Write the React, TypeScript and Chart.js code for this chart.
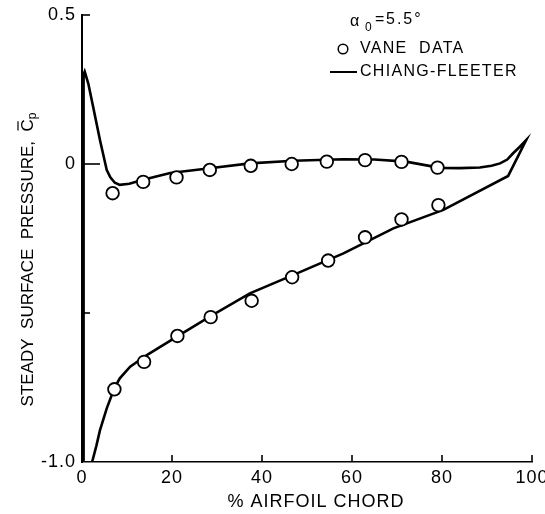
import React, { useEffect, useRef } from "react";
import { Chart, registerables } from "chart.js";

Chart.register(...registerables);

// ---- data ----
const upperX = [6.8, 13.6, 21.0, 28.4, 37.5, 46.6, 54.4, 62.9, 71.0, 79.0];
const upperCp = [-0.098, -0.06, -0.045, -0.02, -0.006, 0.0, 0.008, 0.013, 0.007, -0.012];
const lowerX = [7.2, 13.8, 21.2, 28.6, 37.7, 46.7, 54.7, 62.9, 71.0, 79.2];
const lowerCp = [-0.756, -0.664, -0.577, -0.514, -0.459, -0.38, -0.324, -0.246, -0.186, -0.138];

// Chiang-Fleeter theory, traced around the airfoil (leading edge, upper surface, trailing edge, lower surface)
const theoryX = [
  0.35, 0.35, 0.6, 1.4, 2.5, 4.0, 5.5, 6.3, 7.3, 8.4, 10.5, 13.6, 19.6, 28.4, 37.3, 47.0, 58.0, 65.0, 72.0,
  79.6, 84.0, 88.4, 91.0, 92.9, 94.5, 95.8, 97.3, 98.7, 94.7, 80.3, 69.2, 58.1, 47.0, 37.3, 28.4, 21.0,
  14.4, 10.7, 8.4, 7.2, 5.5, 4.0, 3.2, 2.25,
];
const theoryCp = [
  -1.0, 0.3, 0.31, 0.27, 0.19, 0.08, -0.02, -0.045, -0.063, -0.07, -0.066, -0.053, -0.03, -0.014, 0.002,
  0.011, 0.016, 0.015, 0.008, -0.013, -0.014, -0.012, -0.006, 0.002, 0.015, 0.036, 0.058, 0.08, -0.04,
  -0.154, -0.216, -0.3, -0.372, -0.434, -0.512, -0.58, -0.641, -0.68, -0.719, -0.752, -0.82, -0.893,
  -0.945, -1.0,
];

const xTicks = [0, 20, 40, 60, 80, 100];
const yTickValues = [0.5, 0, -0.5, -1.0];
const yTickLabels = ["0.5", "0", "", "-1.0"];

const X_TITLE = "% AIRFOIL CHORD";
const Y_TITLE_MAIN = "STEADY  SURFACE  PRESSURE,  ";
const LEGEND_ALPHA = "5.5°";
const LEGEND_DATA = "VANE  DATA";
const LEGEND_THEORY = "CHIANG-FLEETER";

const FONT = '"Liberation Sans", Arial, sans-serif';

const toXY = (xs: number[], ys: number[]) => xs.map((x, i) => ({ x, y: ys[i] }));

const spacing = {
  id: "spacing",
  beforeDraw(chart: any) {
    (chart.ctx as any).letterSpacing = "1px";
  },
  afterDatasetsDraw(chart: any) {
    (chart.ctx as any).letterSpacing = "0px";
  },
};

const annotate = {
  id: "annotate",
  afterDraw(chart: any) {
    const ctx: CanvasRenderingContext2D = chart.ctx;
    const { left, right, top, bottom } = chart.chartArea;
    const xs = chart.scales.x;
    const ys = chart.scales.y;
    ctx.save();
    ctx.fillStyle = "#000";
    ctx.strokeStyle = "#000";
    ctx.lineCap = "butt";

    // inward tick marks
    ctx.lineWidth = 1.6;
    xTicks.forEach((v) => {
      if (v === 0) return;
      const px = xs.getPixelForValue(v);
      ctx.beginPath();
      ctx.moveTo(px, bottom);
      ctx.lineTo(px, bottom - 7);
      ctx.stroke();
    });
    yTickValues.forEach((v) => {
      if (v === -1.0) return;
      const py = ys.getPixelForValue(v);
      const len = v === 0 ? 18 : 8;
      ctx.beginPath();
      ctx.moveTo(left, py);
      ctx.lineTo(left + len, py);
      ctx.stroke();
    });

    // x title
    ctx.font = `18px ${FONT}`;
    (ctx as any).letterSpacing = "1px";
    ctx.textAlign = "center";
    ctx.textBaseline = "middle";
    ctx.fillText(X_TITLE, (left + right) / 2 + 9, bottom + 40);

    // y title (rotated)
    ctx.save();
    ctx.font = `17px ${FONT}`;
    (ctx as any).letterSpacing = "0px";
    const wMain = ctx.measureText(Y_TITLE_MAIN).width;
    const wC = ctx.measureText("C").width;
    ctx.font = `12px ${FONT}`;
    const wP = ctx.measureText("p").width;
    const total = wMain + wC + wP;
    ctx.translate(28, (top + bottom) / 2 + 21);
    ctx.rotate(-Math.PI / 2);
    ctx.textAlign = "left";
    ctx.textBaseline = "middle";
    ctx.font = `17px ${FONT}`;
    let cx = -total / 2;
    ctx.fillText(Y_TITLE_MAIN, cx, 0);
    cx += wMain;
    ctx.fillText("C", cx, 0);
    ctx.lineWidth = 1.2;
    ctx.beginPath();
    ctx.moveTo(cx + 1, -10);
    ctx.lineTo(cx + wC - 2, -10);
    ctx.stroke();
    cx += wC;
    ctx.font = `12px ${FONT}`;
    ctx.fillText("p", cx, 5);
    ctx.restore();

    // legend block
    const lx = right - 202;
    ctx.textAlign = "left";
    ctx.textBaseline = "middle";
    (ctx as any).letterSpacing = "0.6px";
    ctx.font = `16px ${FONT}`;
    ctx.fillText("α", lx + 20, 22);
    ctx.font = `12px ${FONT}`;
    ctx.fillText("0", lx + 35, 28);
    ctx.font = `16px ${FONT}`;
    ctx.fillText("=", lx + 45, 20);
    (ctx as any).letterSpacing = "2px";
    ctx.fillText(LEGEND_ALPHA, lx + 56, 20);

    ctx.lineWidth = 1.5;
    ctx.beginPath();
    ctx.arc(lx + 13, 49, 4.8, 0, Math.PI * 2);
    ctx.stroke();
    ctx.font = `16px ${FONT}`;
    (ctx as any).letterSpacing = "1.3px";
    ctx.fillText(LEGEND_DATA, lx + 30, 49);

    ctx.lineWidth = 2;
    ctx.beginPath();
    ctx.moveTo(lx, 72);
    ctx.lineTo(lx + 27, 72);
    ctx.stroke();
    ctx.fillText(LEGEND_THEORY, lx + 30, 72);
    ctx.restore();
  },
};

export default function App() {
  const ref = useRef<HTMLCanvasElement>(null);

  useEffect(() => {
    if (!ref.current) return;
    const chart = new Chart(ref.current, {
      type: "scatter",
      data: {
        datasets: [
          {
            label: "Vane data",
            data: [...toXY(upperX, upperCp), ...toXY(lowerX, lowerCp)],
            pointStyle: "circle",
            pointRadius: 6.3,
            pointBorderWidth: 1.8,
            pointBackgroundColor: "#fff",
            pointBorderColor: "#000",
            showLine: false,
          },
          {
            label: "Chiang-Fleeter",
            data: toXY(theoryX, theoryCp),
            showLine: true,
            borderColor: "#000",
            borderWidth: 2.6,
            pointRadius: 0,
            tension: 0,
            clip: { left: 4, right: 4, top: 4, bottom: 0 } as any,
          },
        ],
      },
      options: {
        responsive: false,
        animation: false,
        layout: { padding: { top: 15, right: 13, left: 0, bottom: 0 } },
        plugins: { legend: { display: false }, tooltip: { enabled: false } },
        scales: {
          x: {
            type: "linear",
            min: 0,
            max: 100,
            afterFit: (s: any) => {
              s.height = 52;
              s.paddingLeft = 0;
              s.paddingRight = 0;
            },
            afterBuildTicks: (s: any) => {
              s.ticks = xTicks.map((v) => ({ value: v }));
            },
            ticks: {
              color: "#000",
              font: { family: FONT, size: 18 },
              padding: 5,
              maxRotation: 0,
              callback: (v: any) => String(v),
            },
            grid: { display: false, drawTicks: false },
            border: { display: true, color: "#000", width: 1.6 },
          },
          y: {
            type: "linear",
            min: -1.0,
            max: 0.5,
            afterFit: (s: any) => {
              s.width = 82;
              s.paddingTop = 0;
              s.paddingBottom = 0;
            },
            afterBuildTicks: (s: any) => {
              s.ticks = yTickValues.map((v) => ({ value: v }));
            },
            ticks: {
              color: "#000",
              font: { family: FONT, size: 18 },
              padding: 6,
              callback: (v: any) => {
                const i = yTickValues.findIndex((t) => Math.abs(t - Number(v)) < 1e-9);
                return i >= 0 ? yTickLabels[i] : "";
              },
            },
            grid: { display: false, drawTicks: false },
            border: { display: true, color: "#000", width: 2 },
          },
        },
      },
      plugins: [spacing, annotate],
    });
    return () => chart.destroy();
  }, []);

  return (
    <div style={{ position: "fixed", left: 0, top: 0, width: 545, height: 514, background: "#fff" }}>
      <canvas ref={ref} width={545} height={514} style={{ display: "block" }} />
    </div>
  );
}
